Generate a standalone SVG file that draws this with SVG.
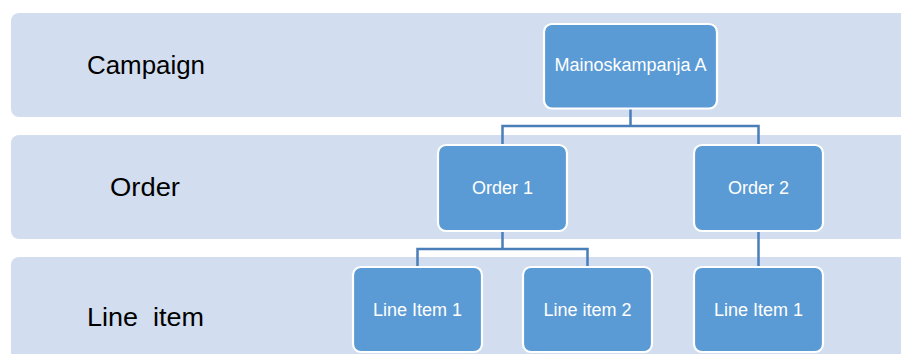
<svg xmlns="http://www.w3.org/2000/svg" width="901" height="354" viewBox="0 0 901 354">
<style>
.band{fill:#D2DEEF;}
.lbl{font-family:"Liberation Sans",Arial,sans-serif;font-size:26px;fill:#000;white-space:pre;}
.box rect{fill:#5B9BD5;stroke:#FFFFFF;stroke-width:2.2;}
.box text{font-family:"Liberation Sans",Arial,sans-serif;font-size:18px;fill:#FFFFFF;text-anchor:middle;}
.conn path{fill:none;stroke:#4A7EB8;stroke-width:2.5;}
</style>
<rect width="901" height="354" fill="#FFFFFF"/>
<g id="bands">
<rect class="band" x="11" y="13" width="910" height="104" rx="8"/>
<rect class="band" x="11" y="135" width="910" height="104" rx="8"/>
<rect class="band" x="11" y="257" width="910" height="110" rx="8"/>
</g>
<g id="labels">
<text class="lbl" x="87" y="74" textLength="118" lengthAdjust="spacingAndGlyphs">Campaign</text>
<text class="lbl" x="110" y="196" textLength="70" lengthAdjust="spacingAndGlyphs">Order</text>
<text class="lbl" x="87" y="326" textLength="117" lengthAdjust="spacingAndGlyphs">Line  item</text>
</g>
<g id="connectors" class="conn">
<path d="M630.5,109 V126 M502.5,144 V126 H758.5 V144"/>
<path d="M502.5,232 V249 M417.5,266 V249 H587.5 V266"/>
<path d="M758.5,232 V266"/>
</g>
<g id="campaignA" class="box">
<rect x="544" y="24" width="173" height="84.5" rx="8"/>
<text x="630.5" y="71">Mainoskampanja A</text>
</g>
<g id="order1" class="box">
<rect x="438" y="145" width="129" height="86" rx="8"/>
<text x="502.5" y="194">Order 1</text>
</g>
<g id="order2" class="box">
<rect x="694" y="145" width="129" height="86" rx="8"/>
<text x="758.5" y="194">Order 2</text>
</g>
<g id="lineitem1a" class="box">
<rect x="353" y="267" width="129" height="85" rx="8"/>
<text x="417.5" y="316">Line Item 1</text>
</g>
<g id="lineitem2" class="box">
<rect x="523" y="267" width="129" height="85" rx="8"/>
<text x="587.5" y="316">Line item 2</text>
</g>
<g id="lineitem1b" class="box">
<rect x="694" y="267" width="129" height="85" rx="8"/>
<text x="758.5" y="316">Line Item 1</text>
</g>
</svg>
